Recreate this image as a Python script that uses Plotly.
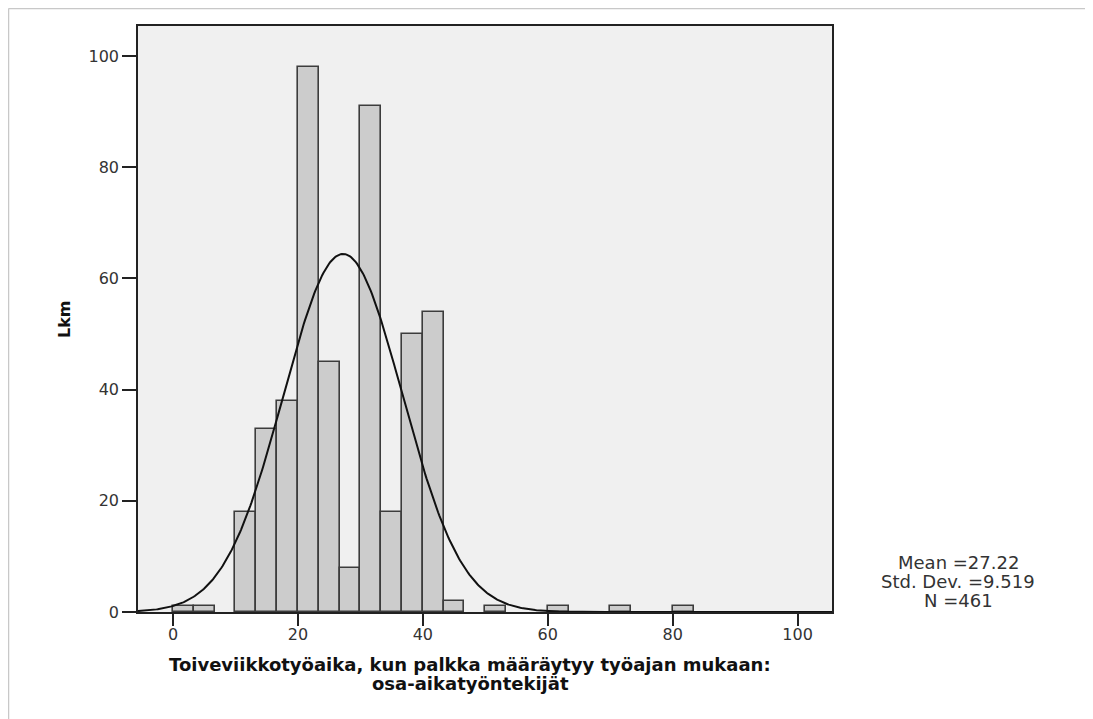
import numpy as np
import plotly.graph_objects as go

# Histogram bins (left edges, width 10/3) and counts
bin_width = 10 / 3
bin_starts = [0, 10/3, 20/3, 10, 40/3, 50/3, 20, 70/3, 80/3, 30, 100/3, 110/3, 40, 130/3,
              140/3, 50, 160/3, 170/3, 60, 190/3, 200/3, 70, 220/3, 230/3, 80]
counts = [1, 1, 0, 18, 33, 38, 98, 45, 8, 91, 18, 50, 54, 2,
          0, 1, 0, 0, 1, 0, 0, 1, 0, 0, 1]

mean_val = 27.22
std_val = 9.519
n_val = 461

x_range = [-5.6, 105.5]
y_range = [0, 105.4]
x_ticks = [0, 20, 40, 60, 80, 100]
y_ticks = [0, 20, 40, 60, 80, 100]

x_title_lines = ["Toiveviikkotyöaika, kun palkka määräytyy työajan mukaan:", "osa-aikatyöntekijät"]
y_title = "Lkm"
stats_text = [f"Mean ={mean_val:.2f}", f"Std. Dev. ={std_val:.3f}", f"N ={n_val}"]

# fitted normal curve from the displayed statistics
xc = np.linspace(x_range[0], x_range[1], 600)
yc = n_val * bin_width / (std_val * np.sqrt(2 * np.pi)) * np.exp(-0.5 * ((xc - mean_val) / std_val) ** 2)

centers = [s + bin_width / 2 for s in bin_starts]
bx = [c for c, v in zip(centers, counts) if v > 0]
by = [v for v in counts if v > 0]

fig = go.Figure()
fig.add_trace(go.Bar(x=bx, y=by, width=bin_width,
                     marker=dict(color="#cccccc", line=dict(color="#3c3c3c", width=1.6)),
                     hoverinfo="skip"))
fig.add_trace(go.Scatter(x=xc, y=yc, mode="lines", line=dict(color="#111111", width=2),
                         hoverinfo="skip"))

OFF = 8  # page body margin
W, H = 1093 - OFF, 719 - OFF
# target screen positions of the plot area
SL, SR, ST, SB = 138, 832, 26, 612
L, T = SL - OFF, ST - OFF
R, B = W - (SR - OFF), H - (SB - OFF)
pw, ph = W - L - R, H - T - B

def px(sx):
    return (sx - SL) / pw

def py(sy):
    return (SB - sy) / ph

tick_font = dict(family="DejaVu Sans", size=16, color="#333333")
fig.update_layout(
    width=W, height=H,
    margin=dict(l=L, r=R, t=T, b=B, pad=0),
    paper_bgcolor="white",
    plot_bgcolor="#f0f0f0",
    showlegend=False,
    bargap=0,
    xaxis=dict(range=x_range, tickvals=x_ticks, ticks="outside", ticklen=12, tickwidth=1.6,
               tickcolor="#222222", showgrid=False, zeroline=False, showline=True,
               linecolor="#222222", linewidth=1.6, mirror=True, tickfont=tick_font,
               ticklabelstandoff=-5),
    yaxis=dict(range=y_range, tickvals=y_ticks, ticks="outside", ticklen=14, tickwidth=1.6,
               tickcolor="#222222", showgrid=False, zeroline=False, showline=True,
               linecolor="#222222", linewidth=1.6, mirror=True, tickfont=tick_font),
)

annotations = []
for line, sy in zip(x_title_lines, [664, 683]):
    annotations.append(dict(text="<b>" + line + "</b>", x=px(470), y=py(sy),
                            xref="paper", yref="paper", showarrow=False, xanchor="center",
                            yanchor="middle", font=dict(family="DejaVu Sans", size=18, color="#111111")))
annotations.append(dict(text="<b>" + y_title + "</b>", x=px(64), y=py(319), xref="paper", yref="paper",
                        showarrow=False, textangle=-90, xanchor="center", yanchor="middle",
                        font=dict(family="DejaVu Sans", size=16, color="#111111")))
for line, sy in zip(stats_text, [562, 581, 600]):
    annotations.append(dict(text=line, x=px(958), y=py(sy), xref="paper", yref="paper",
                            showarrow=False, xanchor="center", yanchor="middle",
                            font=dict(family="DejaVu Sans", size=18, color="#333333")))
fig.update_layout(annotations=annotations)

# light outer frame of the image
fig.add_shape(type="line", xref="paper", yref="paper", x0=px(8.5), x1=px(1110), y0=py(8.5), y1=py(8.5),
              line=dict(color="#c8c8c8", width=1.5))
fig.add_shape(type="line", xref="paper", yref="paper", x0=px(8.5), x1=px(8.5), y0=py(8.5), y1=py(740),
              line=dict(color="#c8c8c8", width=1.5))

fig.write_html("out.html")
